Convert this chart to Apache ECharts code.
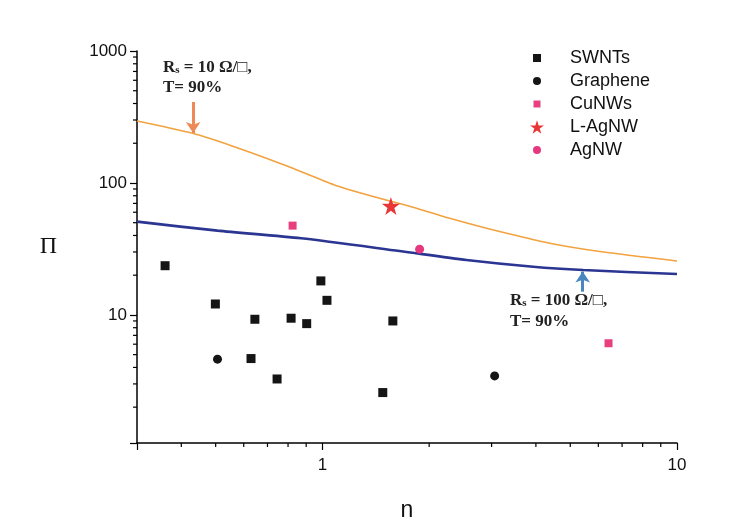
<!DOCTYPE html>
<html><head><meta charset="utf-8">
<script src="https://cdn.jsdelivr.net/npm/echarts@6/dist/echarts.min.js"></script>
<style>html,body{margin:0;padding:0;background:#fff}#c{width:739px;height:531px}</style>
</head><body><div id="c"></div>
<script>
// ---- data ----
const X_MIN = 0.3, X_MAX = 10, Y_MIN = 1.07, Y_MAX = 1000;
const xMinorTicks = [0.4,0.5,0.6,0.7,0.8,0.9,2,3,4,5,6,7,8,9];
const yMinorTicks = [2,3,4,5,6,7,8,9,20,30,40,50,60,70,80,90,200,300,400,500,600,700,800,900];

const swntX = [0.36,0.499,0.645,0.816,0.903,0.99,1.03,1.58,0.629,0.745,1.48];
const swntY = [23.6,12.1,9.27,9.44,8.59,18.1,12.9,9.0,4.67,3.27,2.58];
const grapheneX = [0.506,3.06];
const grapheneY = [4.62,3.45];
const cunwX = [0.824,6.41];
const cunwY = [47.5,6.1];
const lagnwX = [1.56];
const lagnwY = [67];
const agnwX = [1.88];
const agnwY = [31.5];

const orangeX = [0.3,0.43,0.564,0.781,1.081,1.343,1.80,2.285,3.16,4.377,6.06,10];
const orangeY = [294.9,237.9,188.4,136.9,96.6,81.1,65.5,54.0,42.8,34.9,30.2,25.6];
const blueX = [0.3,0.506,0.871,1.65,2.547,3.93,5.44,10];
const blueY = [50.9,43.5,38.1,30.5,26.1,23.2,21.9,20.4];

const arrow1 = {x:0.432, from:411, to:239};
const arrow2 = {x:5.42, from:15.0, to:21.3};

const zip = (a,b)=>a.map((v,i)=>[v,b[i]]);

const chart = echarts.init(document.getElementById('c'), null, {renderer:'canvas'});
const labelFont = 'Liberation Sans, Arial, sans-serif';
const serif = 'Liberation Serif, Times New Roman, serif';
const STAR = 'path://M50,0 L61.8,36.2 L100,36.2 L69.1,58.8 L80.9,95.1 L50,72.7 L19.1,95.1 L30.9,58.8 L0,36.2 L38.2,36.2 Z';
// legend icons with a transparent margin so that the star can be larger than the others
const LEG_SQ = 'path://M0,0 M14,14 M3,3 L11,3 L11,11 L3,11 Z';
const LEG_SQ_S = 'path://M0,0 M14,14 M3.5,3.5 L10.5,3.5 L10.5,10.5 L3.5,10.5 Z';
const LEG_CI = 'path://M0,0 M14,14 M3,7 A4,4 0 1,0 11,7 A4,4 0 1,0 3,7 Z';

function isPow10(v){ const l = Math.log10(v); return Math.abs(l-Math.round(l))<1e-6; }

const richTop = {b:{fontFamily:serif,fontWeight:'bold',fontSize:17,fill:'#222'},s:{fontFamily:serif,fontWeight:'bold',fontSize:11,fill:'#222',padding:[6,0,0,0]}};

chart.setOption({
  animation:false,
  backgroundColor:'#fff',
  grid:{left:137,right:62,top:51,bottom:88,containLabel:false},
  xAxis:{type:'log',logBase:10,min:X_MIN,max:X_MAX,
    name:'n',nameLocation:'middle',nameGap:56,
    nameTextStyle:{fontFamily:labelFont,fontSize:23,color:'#111'},
    axisLine:{lineStyle:{color:'#000',width:1.5}},
    axisTick:{show:true,inside:false,length:7,lineStyle:{color:'#000',width:1.2}},
    axisLabel:{fontFamily:labelFont,fontSize:17,color:'#111',margin:14,
      formatter:v=>isPow10(v)?String(Math.round(v)):''},
    splitLine:{show:false}},
  yAxis:{type:'log',logBase:10,min:Y_MIN,max:Y_MAX,
    name:'Π',nameLocation:'middle',nameGap:80,nameRotate:0,
    nameTextStyle:{fontFamily:serif,fontSize:24,color:'#111'},
    axisLine:{lineStyle:{color:'#000',width:1.5}},
    axisTick:{show:true,inside:false,length:7,lineStyle:{color:'#000',width:1.2}},
    axisLabel:{fontFamily:labelFont,fontSize:17,color:'#111',margin:10,
      formatter:v=>isPow10(v)?String(Math.round(v)):''},
    splitLine:{show:false}},
  legend:{orient:'vertical',left:525,top:44,itemWidth:14,itemHeight:14,itemGap:5,
    textStyle:{fontFamily:labelFont,fontSize:18,color:'#111',padding:[0,0,0,21]},
    data:[{name:'SWNTs',icon:LEG_SQ},{name:'Graphene',icon:LEG_CI},{name:'CuNWs',icon:LEG_SQ_S},
          {name:'L-AgNW',icon:STAR},{name:'AgNW',icon:LEG_CI}]},
  graphic:[
    {type:'text',left:163,top:59,style:{rich:richTop,text:'{b|R}{s|s}{b| = 10 Ω/□,}'}},
    {type:'text',left:163,top:79,style:{text:'T= 90%',fontFamily:serif,fontWeight:'bold',fontSize:17,fill:'#222'}},
    {type:'text',left:510,top:292,style:{rich:richTop,text:'{b|R}{s|s}{b| = 100 Ω/□,}'}},
    {type:'text',left:510,top:313,style:{text:'T= 90%',fontFamily:serif,fontWeight:'bold',fontSize:17,fill:'#222'}}
  ],
  series:[
    {type:'custom',name:'_xminor',silent:true,clip:false,z:1,
      data:xMinorTicks.map(v=>[v,Y_MIN]),
      renderItem:(params,api)=>{const p=api.coord([api.value(0),api.value(1)]);
        return {type:'line',shape:{x1:p[0],y1:p[1],x2:p[0],y2:p[1]+4},style:{stroke:'#000',lineWidth:1.2}};}},
    {type:'custom',name:'_yminor',silent:true,clip:false,z:1,
      data:yMinorTicks.map(v=>[X_MIN,v]),
      renderItem:(params,api)=>{const p=api.coord([api.value(0),api.value(1)]);
        return {type:'line',shape:{x1:p[0],y1:p[1],x2:p[0]-4,y2:p[1]},style:{stroke:'#000',lineWidth:1.2}};}},
    {type:'line',name:'Rs10',data:zip(orangeX,orangeY),smooth:0.25,showSymbol:false,symbol:'none',
      lineStyle:{color:'#F2A23E',width:1.6},z:2,
      markLine:{silent:true,symbol:['none','arrow'],symbolSize:[11,11],label:{show:false},
        lineStyle:{color:'#EE8A55',width:3,type:'solid'},
        data:[[{coord:[arrow1.x,arrow1.from]},{coord:[arrow1.x,arrow1.to]}]]}},
    {type:'line',name:'Rs100',data:zip(blueX,blueY),smooth:0.25,showSymbol:false,symbol:'none',
      lineStyle:{color:'#2B3592',width:2.6},z:2,
      markLine:{silent:true,symbol:['none','arrow'],symbolSize:[11,11],label:{show:false},
        lineStyle:{color:'#4A86C0',width:3,type:'solid'},
        data:[[{coord:[arrow2.x,arrow2.from]},{coord:[arrow2.x,arrow2.to]}]]}},
    {type:'scatter',name:'SWNTs',data:zip(swntX,swntY),symbol:'rect',symbolSize:9,itemStyle:{color:'#151515',opacity:1},z:3},
    {type:'scatter',name:'Graphene',data:zip(grapheneX,grapheneY),symbol:'circle',symbolSize:9,itemStyle:{color:'#151515',opacity:1},z:3},
    {type:'scatter',name:'CuNWs',data:zip(cunwX,cunwY),symbol:'rect',symbolSize:8,itemStyle:{color:'#E8407E',opacity:1},z:3},
    {type:'scatter',name:'L-AgNW',data:zip(lagnwX,lagnwY),symbol:STAR,symbolSize:18,itemStyle:{color:'#E83535',opacity:1},z:4},
    {type:'scatter',name:'AgNW',data:zip(agnwX,agnwY),symbol:'circle',symbolSize:9,itemStyle:{color:'#E6387F',opacity:1},z:3}
  ]
});
</script></body></html>
